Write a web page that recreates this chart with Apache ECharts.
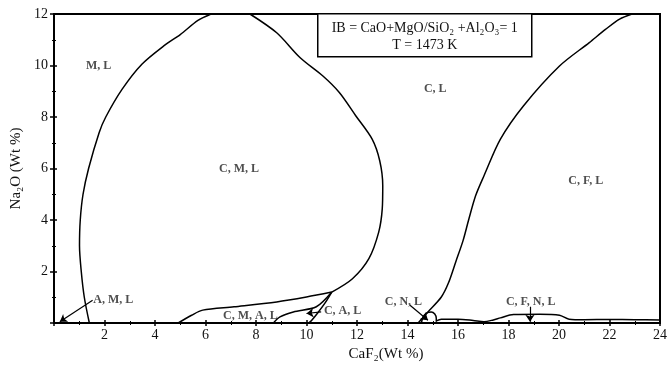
<!DOCTYPE html>
<html><head><meta charset="utf-8">
<script src="https://cdn.jsdelivr.net/npm/echarts@6/dist/echarts.min.js"></script>
<style>html,body{margin:0;padding:0;background:#fff}#c{width:670px;height:367px}</style>
</head><body><div id="c"></div>
<script>
// Phase boundaries (CaF2 wt%, Na2O wt%)
const curveML = [[1.40,0],[1.2,1.0],[1.08,2.0],[1.01,3.0],[1.04,4.0],[1.15,5.0],[1.37,6.0],[1.79,7.4],[2.05,8.0],[2.7,9.08],[3.48,10.05],[4.4,10.8],[5.0,11.2],[5.7,11.75],[6.22,12]];
const curveCML = [[7.76,12],[8.82,11.27],[9.75,10.3],[10.65,9.59],[11.3,8.95],[11.95,8.05],[12.6,7.14],[12.9,6.3],[13.02,5.33],[13.0,4.43],[12.86,3.53],[12.47,2.5],[11.82,1.72],[11.0,1.2]];
const curveCMAL_top = [[11.0,1.2],[10.0,1.01],[8.82,0.82],[7.13,0.63],[5.89,0.5],[5.45,0.3],[4.92,0]];
const curveCMAL_low = [[11.0,1.2],[10.39,0.63],[9.48,0.43],[8.95,0.24],[8.69,0]];
const curveCAL = [[11.0,1.2],[10.75,0.8],[10.45,0.4],[10.2,0.1],[10.08,0]];
const curveCL = [[22.89,12],[22.4,11.8],[21.84,11.4],[21.2,10.89],[20.02,9.98],[18.59,8.43],[17.68,7.14],[17.03,5.72],[16.7,4.95],[16.42,4.0],[16.2,3.2],[15.92,2.4],[15.62,1.55],[15.34,1.01],[14.81,0.43],[14.42,0]];
const arcCNL = [[14.55,0],[14.62,0.25],[14.78,0.4],[14.94,0.43],[15.08,0.35],[15.14,0.18],[15.14,0.05]];
const curveCFNL = [[15.14,0.08],[15.34,0.15],[16.0,0.15],[16.6,0.1],[17.03,0.05],[17.4,0.12],[17.68,0.2],[18.2,0.33],[19.24,0.34],[20.02,0.3],[20.4,0.15],[21,0.13],[22,0.14],[23,0.13],[24,0.12]];
// Annotation arrows [from, to]
const arrows = [
  [[1.53,0.88],[0.23,0.05]],
  [[10.58,0.43],[10.0,0.37]],
  [[14.1,0.69],[14.81,0.11]],
  [[18.85,0.63],[18.85,0.05]]
];
// Region labels
const regionNames = ['M, L','C, M, L','C, L','C, F, L','A, M, L','C, M, A, L','C, A, L','C, N, L','C, F, N, L'];
const regionPos = [[1.77,10.0],[7.33,6.0],[15.1,9.1],[21.06,5.53],[2.35,0.91],[7.78,0.28],[11.43,0.47],[13.84,0.82],[18.88,0.82]];
const xTicks = [0,2,4,6,8,10,12,14,16,18,20,22,24];
const yTicks = [0,2,4,6,8,10,12];

const FONT = 'Liberation Serif';
const lineStyle = {color:'#000', width:1.5};
function curve(d){return {type:'line', data:d, smooth:0.3, showSymbol:false, symbol:'none', lineStyle:lineStyle, silent:true, animation:false, z:3};}
const chart = echarts.init(document.getElementById('c'));
const baseX = {type:'value', min:xTicks[0], max:xTicks[xTicks.length-1], interval:2};
const baseY = {type:'value', min:yTicks[0], max:yTicks[yTicks.length-1], interval:2};
chart.setOption({
  animation:false,
  backgroundColor:'#fff',
  grid:{left:54, right:2, top:14, bottom:43, show:true, borderColor:'#000', borderWidth:2},
  xAxis:[
    Object.assign({}, baseX, {
      name:'CaF\u2082(Wt %)', nameLocation:'middle', nameGap:24,
      nameTextStyle:{fontFamily:FONT, fontSize:15, color:'#111', padding:[0,0,0,58]},
      axisLine:{lineStyle:{color:'#000', width:2}},
      axisTick:{show:true, inside:false, length:3, lineStyle:{color:'#000', width:1.5}},
      minorTick:{show:true, splitNumber:2, length:2, lineStyle:{color:'#000'}},
      splitLine:{show:false},
      axisLabel:{fontFamily:FONT, fontSize:14, color:'#111', margin:5, formatter:v=>v===0?'':String(v)}
    }),
    Object.assign({}, baseX, {
      position:'bottom', axisLine:{show:false}, axisLabel:{show:false}, splitLine:{show:false},
      axisTick:{show:true, inside:true, length:3, lineStyle:{color:'#000', width:1.5}},
      minorTick:{show:true, splitNumber:2, length:2, lineStyle:{color:'#000'}}
    })
  ],
  yAxis:[
    Object.assign({}, baseY, {
      name:'Na\u2082O (Wt %)', nameLocation:'middle', nameGap:19,
      nameTextStyle:{fontFamily:FONT, fontSize:15, color:'#111'},
      axisLine:{lineStyle:{color:'#000', width:2}},
      axisTick:{show:true, inside:false, length:4, lineStyle:{color:'#000', width:1.5}},
      minorTick:{show:true, splitNumber:2, length:2, lineStyle:{color:'#000'}},
      splitLine:{show:false},
      axisLabel:{fontFamily:FONT, fontSize:14, color:'#111', margin:6, formatter:v=>v===0?'':String(v)}
    }),
    Object.assign({}, baseY, {
      position:'left', axisLine:{show:false}, axisLabel:{show:false}, splitLine:{show:false},
      axisTick:{show:true, inside:true, length:3, lineStyle:{color:'#000', width:1.5}},
      minorTick:{show:true, splitNumber:2, length:2, lineStyle:{color:'#000'}}
    })
  ],
  series:[
    curve(curveML), curve(curveCML), curve(curveCMAL_top), curve(curveCMAL_low), curve(curveCAL),
    curve(curveCL), curve(arcCNL), curve(curveCFNL),
    {type:'lines', coordinateSystem:'cartesian2d', polyline:false, silent:true, z:4,
     symbol:['none','arrow'], symbolSize:[1,7],
     lineStyle:{color:'#000', width:1.2, opacity:1},
     data:arrows.map(a=>({coords:a}))},
    {type:'scatter', symbolSize:0, silent:true, z:5,
     data:regionNames.map((n,i)=>({name:n, value:regionPos[i]})),
     label:{show:true, position:'inside', formatter:'{b}', fontFamily:FONT, fontSize:12, fontWeight:'bold', color:'#222'}}
  ],
  graphic:[{
    type:'group', left:317, top:13, silent:true, z:10,
    children:[
      {type:'rect', shape:{x:0,y:0,width:214,height:43}, style:{fill:'#fff', stroke:'#000', lineWidth:1.5}},
      {type:'text', x:107, y:15, style:{text:'IB = CaO+MgO/SiO\u2082 +Al\u2082O\u2083= 1', font:'14px "Liberation Serif"', fill:'#111', align:'center', verticalAlign:'middle'}},
      {type:'text', x:107, y:32, style:{text:'T = 1473 K', font:'14px "Liberation Serif"', fill:'#111', align:'center', verticalAlign:'middle'}}
    ]
  }]
});
</script></body></html>
